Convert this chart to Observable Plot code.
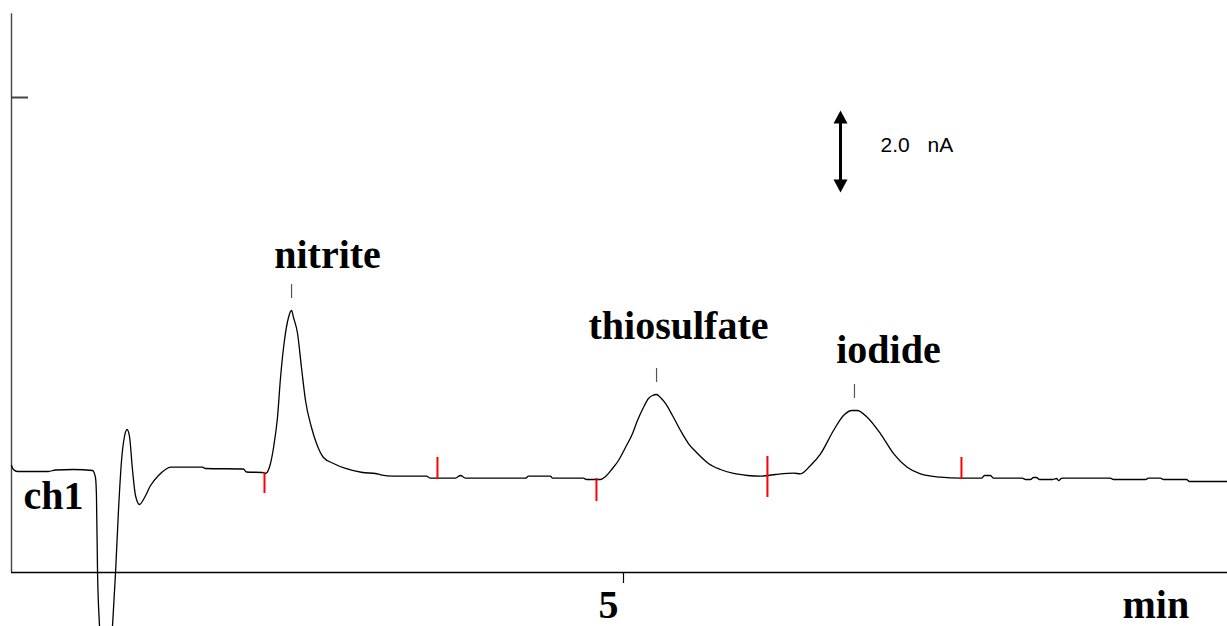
<!DOCTYPE html>
<html>
<head>
<meta charset="utf-8">
<script src="https://cdn.jsdelivr.net/npm/d3@7"></script>
<script src="https://cdn.jsdelivr.net/npm/@observablehq/plot@0.6"></script>
<style>
  html, body { margin: 0; padding: 0; background: #fff; overflow: hidden; }
</style>
</head>
<body>
<div id="chart"></div>
<script>
// Chromatogram trace: retention time (min) and detector current (nA)
const time = [0.000,0.016,0.049,0.302,0.359,0.507,0.662,0.686,0.694,0.703,0.719,0.772,0.825,0.850,0.874,0.899,0.923,0.944,0.964,0.989,1.013,1.046,1.087,1.136,1.201,1.258,1.299,1.560,1.585,1.895,1.920,2.051,2.075,2.116,2.141,2.173,2.198,2.230,2.263,2.288,2.304,2.337,2.369,2.402,2.451,2.492,2.549,2.631,2.729,2.868,2.974,3.015,3.121,3.391,3.423,3.627,3.668,3.709,4.199,4.224,4.404,4.420,4.673,4.698,4.812,4.853,4.910,4.959,5.016,5.074,5.114,5.163,5.204,5.237,5.270,5.302,5.343,5.400,5.466,5.531,5.605,5.694,5.792,5.899,6.013,6.119,6.242,6.389,6.446,6.528,6.610,6.716,6.797,6.868,6.909,6.991,7.100,7.208,7.318,7.426,7.590,7.753,7.925,7.949,7.998,8.023,8.260,8.284,8.325,8.350,8.374,8.399,8.505,8.538,8.554,8.578,8.595,8.979,9.003,9.265,9.289,9.387,9.412,9.600,9.624,9.935];
const signal = [2.610,2.512,2.463,2.463,2.500,2.512,2.488,2.317,1.878,0.000,-1.317,-4.585,-1.317,0.000,1.512,2.732,3.317,3.488,3.317,2.488,1.878,1.659,1.829,2.122,2.366,2.512,2.568,2.568,2.537,2.524,2.451,2.439,2.415,2.659,3.049,3.780,4.756,5.659,6.220,6.390,6.220,5.829,5.000,4.195,3.537,3.146,2.805,2.659,2.537,2.439,2.415,2.383,2.349,2.349,2.300,2.300,2.366,2.300,2.300,2.349,2.349,2.300,2.300,2.268,2.268,2.341,2.537,2.732,3.049,3.390,3.707,4.024,4.244,4.317,4.341,4.268,4.122,3.829,3.463,3.146,2.902,2.659,2.512,2.415,2.366,2.349,2.390,2.422,2.407,2.610,2.895,3.463,3.829,3.951,3.951,3.788,3.383,2.895,2.568,2.407,2.324,2.300,2.300,2.366,2.366,2.300,2.300,2.268,2.268,2.317,2.317,2.268,2.268,2.293,2.244,2.293,2.300,2.300,2.268,2.268,2.300,2.300,2.268,2.268,2.220,2.220];

// Integration marks (red)
const markTime = [2.067, 3.480, 4.779, 6.176, 7.761];
const markLow  = [1.927, 2.268, 1.732, 1.829, 2.268];
const markHigh = [2.439, 2.805, 2.293, 2.829, 2.805];

// Peak names, peak tick marks and label positions
const peakNames = ["nitrite", "thiosulfate", "iodide"];
const peakTime = [2.288, 5.270, 6.887];
const peakTickLow = [6.683, 4.634, 4.244];
const peakTickHigh = [7.024, 4.976, 4.585];
const labelTime = [2.582, 5.449, 7.165];
const labelSignal = [7.439, 5.707, 5.098];

// Axis ticks and labels
const xTickValues = [5];
const xTickLabels = ["5"];
const xUnit = "min";
const yTickValues = [11.585];
const channelName = "ch1";

// Scale bar
const scaleBarTime = 6.773;
const scaleBarFrom = 9.268;
const scaleBarTo = 11.268;
const scaleBarValue = "2.0";
const scaleBarUnit = "nA";

const trace = time.map((t, i) => ({t, v: signal[i]}));
const marks = markTime.map((t, i) => ({t, lo: markLow[i], hi: markHigh[i]}));
const peaks = peakNames.map((name, i) => ({name, t: peakTime[i], lo: peakTickLow[i], hi: peakTickHigh[i], lt: labelTime[i], lv: labelSignal[i]}));

const serif = "'Liberation Serif', 'Times New Roman', serif";
const sans = "'Liberation Sans', Arial, sans-serif";

const upHead = {draw(ctx) { ctx.moveTo(0, 0); ctx.lineTo(7, 13); ctx.lineTo(-7, 13); ctx.closePath(); }};
const downHead = {draw(ctx) { ctx.moveTo(0, 0); ctx.lineTo(7, -13); ctx.lineTo(-7, -13); ctx.closePath(); }};

const chart = Plot.plot({
  width: 1227,
  height: 626,
  margin: 0,
  style: {background: "white", overflow: "hidden"},
  x: {type: "linear", domain: [0, 10], range: [11, 1235], axis: null},
  y: {type: "linear", domain: [-54 / 41, 572 / 41], range: [626, 0], axis: null},
  marks: [
    // axes frame
    Plot.ruleX([0], {y1: 0, y2: 13.63, stroke: "#444", strokeWidth: 1.4}),
    Plot.ruleY([0], {x1: 0, x2: 10, stroke: "#000", strokeWidth: 1.4}),
    Plot.ruleY(yTickValues, {y: d => d, x1: 0, x2: 17 / 122.4, stroke: "#444", strokeWidth: 2}),
    Plot.ruleX(xTickValues, {x: d => d, y1: 0, y2: -11 / 41, stroke: "#000", strokeWidth: 1.2}),
    Plot.text(xTickLabels, {x: (d, i) => xTickValues[i], y: -1.10, text: d => d, dx: -15, lineAnchor: "bottom", textAnchor: "middle", fontFamily: serif, fontWeight: "bold", fontSize: 40, fill: "#000"}),
    Plot.text([xUnit], {x: 9.077, y: -1.10, text: d => d, lineAnchor: "bottom", textAnchor: "start", fontFamily: serif, fontWeight: "bold", fontSize: 40, fill: "#000"}),
    Plot.text([channelName], {x: 0.098, y: 1.537, text: d => d, lineAnchor: "bottom", textAnchor: "start", fontFamily: serif, fontWeight: "bold", fontSize: 40, fill: "#000"}),
    // trace
    Plot.line(trace, {x: "t", y: "v", stroke: "#000", strokeWidth: 1.3, curve: "monotone-x", clip: true}),
    // integration marks
    Plot.ruleX(marks, {x: "t", y1: "lo", y2: "hi", stroke: "#ff0000", strokeWidth: 2}),
    // peak ticks and labels
    Plot.ruleX(peaks, {x: "t", y1: "lo", y2: "hi", stroke: "#555", strokeWidth: 1.2}),
    Plot.text(peaks, {x: "lt", y: "lv", text: "name", lineAnchor: "bottom", textAnchor: "middle", fontFamily: serif, fontWeight: "bold", fontSize: 40, fill: "#000"}),
    // scale bar
    Plot.ruleX([scaleBarTime], {x: d => d, y1: scaleBarFrom + 0.2, y2: scaleBarTo - 0.2, stroke: "#000", strokeWidth: 3}),
    Plot.dot([scaleBarTo], {x: scaleBarTime, y: d => d, symbol: upHead, fill: "#000", stroke: "none", r: 5}),
    Plot.dot([scaleBarFrom], {x: scaleBarTime, y: d => d, symbol: downHead, fill: "#000", stroke: "none", r: 5}),
    Plot.text([scaleBarValue], {x: 7.10, y: 10.268, text: d => d, lineAnchor: "bottom", textAnchor: "start", fontFamily: sans, fontSize: 21, fill: "#000"}),
    Plot.text([scaleBarUnit], {x: 7.484, y: 10.268, text: d => d, lineAnchor: "bottom", textAnchor: "start", fontFamily: sans, fontSize: 21, fill: "#000"})
  ]
});
document.getElementById("chart").appendChild(chart);
</script>
</body>
</html>
